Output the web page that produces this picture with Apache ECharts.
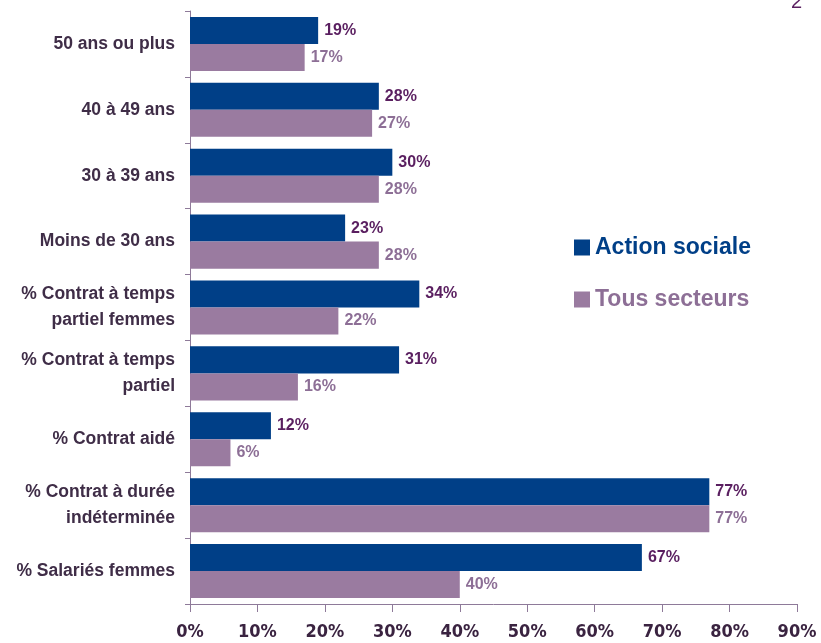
<!DOCTYPE html>
<html>
<head>
<meta charset="utf-8">
<script src="https://cdn.jsdelivr.net/npm/echarts@6/dist/echarts.min.js"></script>
<style>
    html, body { margin: 0; padding: 0; background: #fff; }
    #main { width: 821px; height: 643px; }
</style>
</head>
<body>
<div id="main"></div>
<script>
// categories, top to bottom
var categories = ['50 ans ou plus', '40 à 49 ans', '30 à 39 ans', 'Moins de 30 ans',
    '% Contrat à temps\npartiel femmes', '% Contrat à temps\npartiel', '% Contrat aidé',
    '% Contrat à durée\nindéterminée', '% Salariés femmes'];
var actionSociale = [19, 28, 30, 23, 34, 31, 12, 77, 67];
var tousSecteurs = [17, 27, 28, 28, 22, 16, 6, 77, 40];
var xTicks = [0, 10, 20, 30, 40, 50, 60, 70, 80, 90];

var myChart = echarts.init(document.getElementById('main'));
var option = {
    animation: false,
    grid: {
        left: 190,
        right: 24,
        top: 11,
        bottom: 39
    },
    legend: {
        orient: 'vertical',
        left: 569,
        top: 231,
        itemWidth: 16,
        itemHeight: 16,
        itemGap: 29,
        icon: 'rect',
        textStyle: {
            fontFamily: 'Liberation Sans',
            fontSize: 23,
            fontWeight: 'bold'
        },
        data: [
            {name: 'Action sociale', textStyle: {color: '#003f87'}},
            {name: 'Tous secteurs', textStyle: {color: '#8d6f96'}}
        ]
    },
    xAxis: {
        type: 'value',
        min: xTicks[0],
        max: xTicks[xTicks.length - 1],
        interval: 10,
        splitLine: {show: false},
        axisLine: {show: true, lineStyle: {color: '#8e7a99', width: 1}},
        axisTick: {show: true, length: 8, lineStyle: {color: '#8e7a99'}},
        axisLabel: {
            formatter: '{value}%',
            margin: 19,
            color: '#3a2340',
            fontFamily: 'DejaVu Sans Condensed',
            fontWeight: 'bold',
            fontSize: 18
        }
    },
    yAxis: {
        type: 'category',
        inverse: true,
        data: categories,
        axisLine: {show: true, lineStyle: {color: '#8e7a99', width: 1}},
        axisTick: {show: true, length: 5, lineStyle: {color: '#8e7a99'}},
        axisLabel: {
            margin: 15,
            color: '#3f2d47',
            fontFamily: 'Liberation Sans',
            fontWeight: 'bold',
            fontSize: 17.5,
            lineHeight: 26
        }
    },
    series: [
        {
            name: 'Action sociale',
            type: 'bar',
            data: actionSociale,
            barGap: '0%',
            barCategoryGap: '18%',
            itemStyle: {color: '#003f87'},
            label: {
                show: true,
                position: 'right',
                distance: 6,
                formatter: '{c}%',
                color: '#5a1f60',
                fontFamily: 'Liberation Sans',
                fontWeight: 'bold',
                fontSize: 16
            }
        },
        {
            name: 'Tous secteurs',
            type: 'bar',
            data: tousSecteurs,
            barGap: '0%',
            barCategoryGap: '18%',
            itemStyle: {color: '#9a7ba0'},
            label: {
                show: true,
                position: 'right',
                distance: 6,
                formatter: '{c}%',
                color: '#8d6f96',
                fontFamily: 'Liberation Sans',
                fontWeight: 'bold',
                fontSize: 16
            }
        }
    ],
    graphic: [{
        type: 'text',
        left: 791,
        top: -8,
        style: {
            text: '2',
            fill: '#5a1f60',
            font: '20px "Liberation Sans"'
        }
    }]
};
myChart.setOption(option);
</script>
</body>
</html>
